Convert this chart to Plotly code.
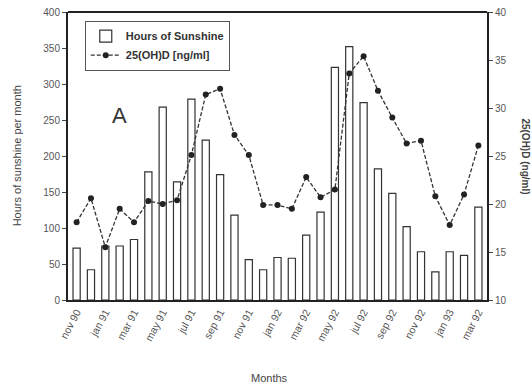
import plotly.graph_objects as go

months = ["nov 90", "dec 90", "jan 91", "feb 91", "mar 91", "apr 91", "may 91", "jun 91",
          "jul 91", "aug 91", "sep 91", "oct 91", "nov 91", "dec 91", "jan 92", "feb 92",
          "mar 92", "apr 92", "may 92", "jun 92", "jul 92", "aug 92", "sep 92", "oct 92",
          "nov 92", "dec 92", "jan 93", "feb 93", "mar 93"]
sunshine = [72, 42, 75, 75, 84, 178, 268, 164, 279, 222, 174, 118, 56, 42, 59, 58,
            90, 122, 323, 352, 274, 182, 148, 102, 67, 39, 67, 62, 129]
vitd = [18.1, 20.6, 15.5, 19.5, 18.1, 20.3, 20.0, 20.4, 25.1, 31.4, 32.0, 27.2, 25.1,
        19.9, 19.9, 19.5, 22.8, 20.7, 21.5, 33.6, 35.4, 31.8, 29.0, 26.3, 26.6, 20.8,
        17.8, 21.0, 26.1]
tick_labels = ["nov 90", "jan 91", "mar 91", "may 91", "jul 91", "sep 91", "nov 91",
               "jan 92", "mar 92", "may 92", "jul 92", "sep 92", "nov 92", "jan 93", "mar 92"]

x = list(range(len(months)))
tickvals = x[::2]

FONT = "Liberation Sans, Arial, sans-serif"

fig = go.Figure()
fig.add_trace(go.Bar(
    x=x, y=sunshine, name="<b>Hours of Sunshine</b>",
    marker=dict(color="white", line=dict(color="#333", width=1.2)),
    width=0.5, yaxis="y",
))
fig.add_trace(go.Scatter(
    x=x, y=vitd, name="<b>25(OH)D [ng/ml]</b>", yaxis="y2",
    mode="lines+markers",
    line=dict(color="#333", width=1.3, dash="4px,2px"),
    marker=dict(color="#222", size=6),
))

fig.update_layout(
    width=532, height=386,
    margin=dict(l=68, r=45, t=12, b=86, autoexpand=False),
    paper_bgcolor="white", plot_bgcolor="white",
    font=dict(family=FONT, color="#444", size=10),
    showlegend=True,
    legend=dict(x=0.04, y=0.97, xanchor="left", yanchor="top",
                bordercolor="#555", borderwidth=1, bgcolor="white",
                font=dict(size=11, color="#333"), tracegroupgap=0,
                itemwidth=30),
    bargap=0.5,
    xaxis=dict(range=[-0.6, 28.6], tickvals=tickvals, ticktext=tick_labels,
               tickangle=-62, showline=True, linecolor="#222", linewidth=2,
               mirror=False, ticks="", showgrid=False, zeroline=False, automargin=False,
               tickfont=dict(size=10.5, color="#555")),
    yaxis=dict(range=[0, 400], dtick=50, showline=True, linecolor="#222", linewidth=2,
               ticks="outside", ticklen=4, tickcolor="#444", showgrid=False, zeroline=False,
               automargin=False, tickfont=dict(size=10, color="#555")),
    yaxis2=dict(range=[10, 40], dtick=5, overlaying="y", side="right",
                showline=True, linecolor="#222", linewidth=2, ticks="outside", ticklen=4,
                tickcolor="#444", showgrid=False, zeroline=False, automargin=False,
                tickfont=dict(size=10, color="#555")),
    shapes=[dict(type="line", xref="paper", yref="paper", x0=0, x1=1, y0=1, y1=1,
                 line=dict(color="#222", width=2))],
    annotations=[
        dict(text="A", xref="paper", yref="paper", x=0.10, y=0.64, showarrow=False,
             font=dict(size=22, color="#333", family=FONT)),
        dict(text="Hours of sunshine per month", xref="paper", yref="paper", x=-0.14, y=0.5,
             textangle=-90, showarrow=False, font=dict(size=11, color="#444", family=FONT)),
        dict(text="<b>25(OH)D (ng/ml)</b>", xref="paper", yref="paper", x=1.11, y=0.5,
             textangle=90, showarrow=False, font=dict(size=10, color="#444", family=FONT)),
        dict(text="Months", xref="paper", yref="paper", x=0.48, y=-0.30,
             showarrow=False, font=dict(size=11, color="#444", family=FONT)),
    ],
)

fig.write_html("out.html", config={"displayModeBar": False},
               post_script="document.body.style.margin='0';")
